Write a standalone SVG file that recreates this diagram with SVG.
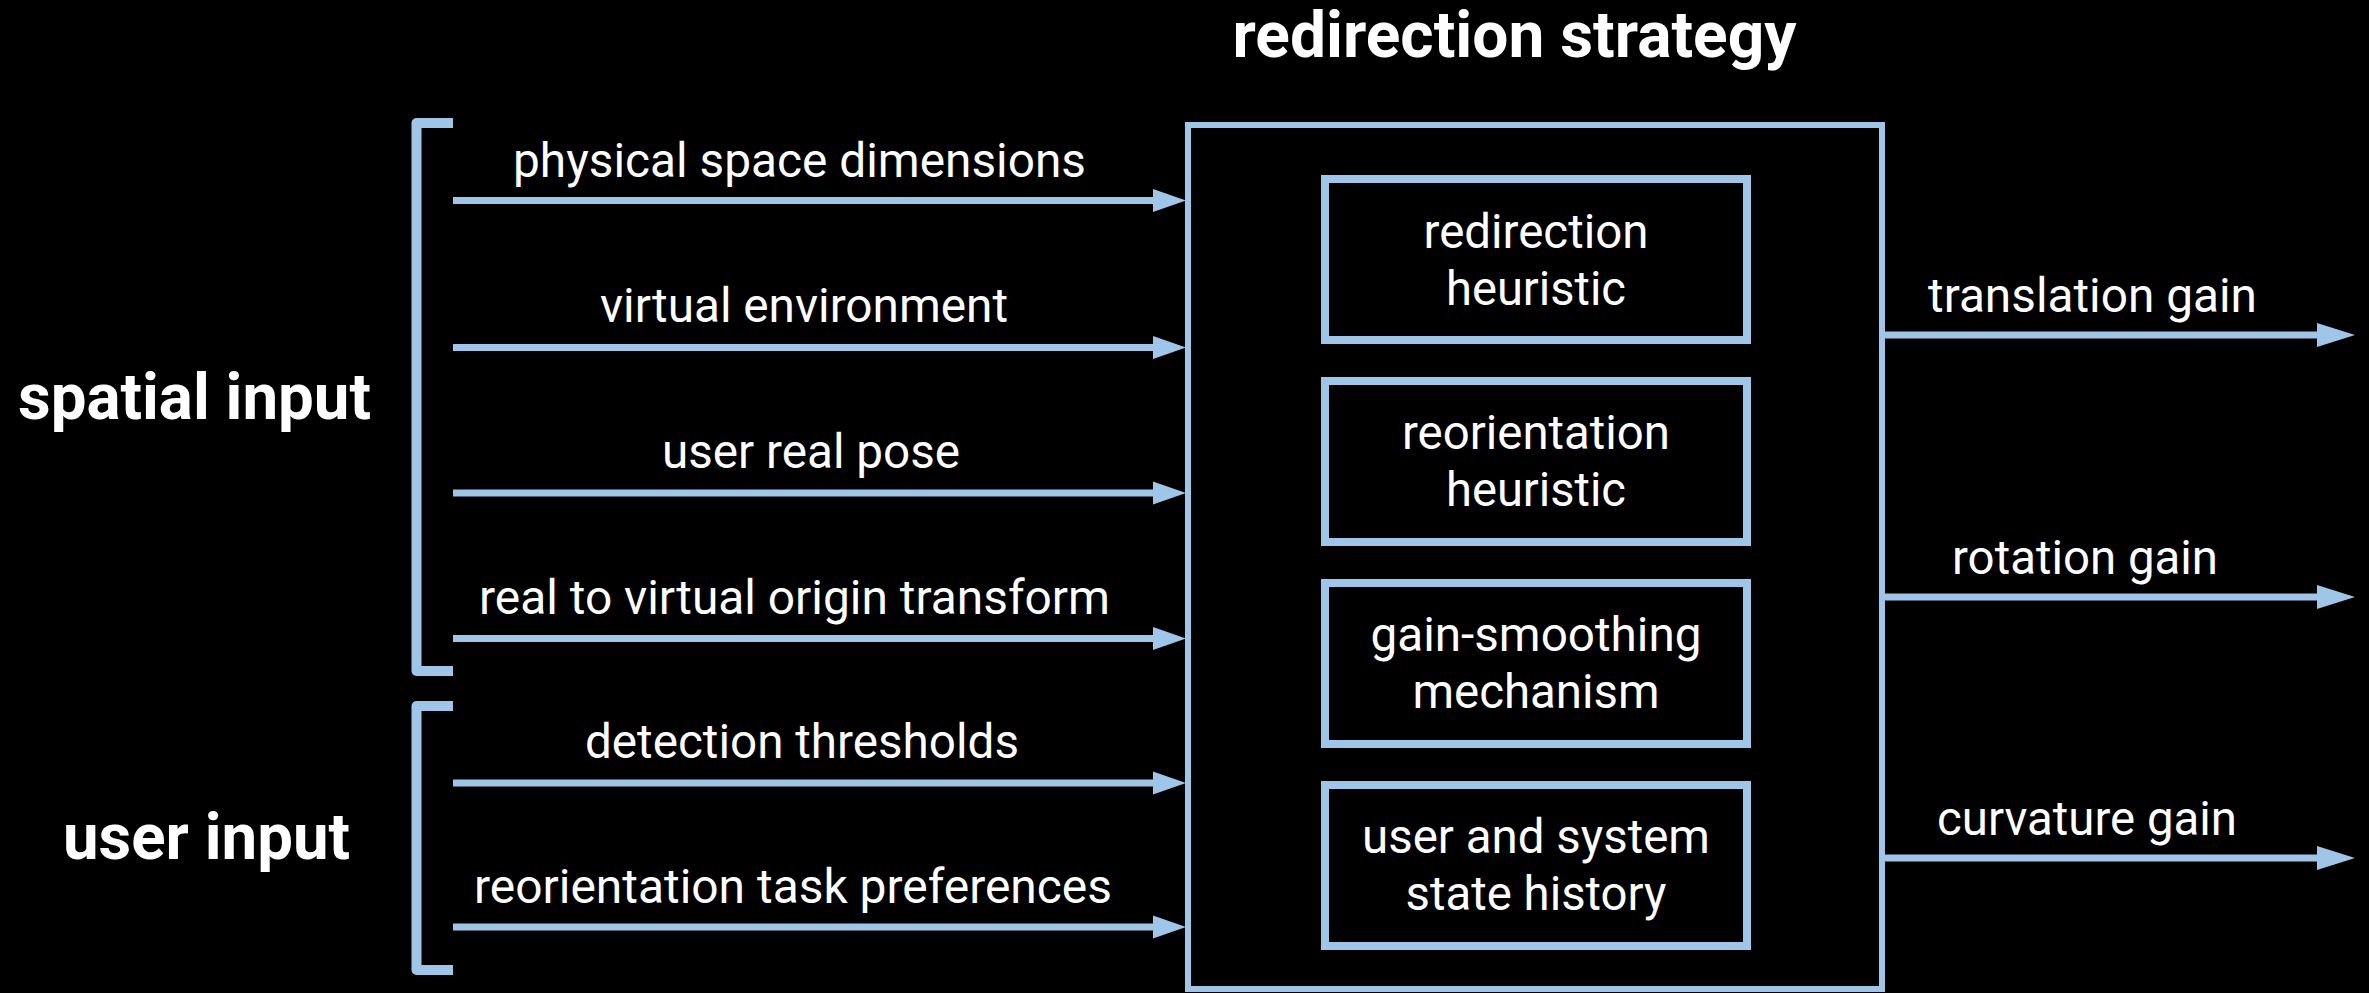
<svg xmlns="http://www.w3.org/2000/svg" width="2369" height="993" viewBox="0 0 2369 993">
  <style>
    .bg { fill: #000000; }
    .ln { stroke: #9fc5e8; stroke-width: 7; fill: none; }
    .brk { stroke: #9fc5e8; stroke-width: 10; fill: none; stroke-linejoin: round; }
    .box { stroke: #9fc5e8; stroke-width: 6; fill: #000000; }
    .inner { stroke: #9fc5e8; stroke-width: 8; fill: #000000; }
    .t { font-family: Roboto, "Liberation Sans", sans-serif; font-size: 48px; fill: #ffffff; }
    .b { font-family: Roboto, "Liberation Sans", sans-serif; font-size: 64px; font-weight: bold; fill: #ffffff; }
    .c { text-anchor: middle; }
  </style>
  <defs>
    <marker id="ahIn" markerUnits="userSpaceOnUse" viewBox="0 0 33 24" markerWidth="33" markerHeight="24" refX="1" refY="12" orient="auto">
      <path d="M0,0.5 L33,12 L0,23.5 z" fill="#9fc5e8"/>
    </marker>
    <marker id="ahOut" markerUnits="userSpaceOnUse" viewBox="0 0 38 24" markerWidth="38" markerHeight="24" refX="1" refY="12" orient="auto">
      <path d="M0,0 L38,12 L0,24 z" fill="#9fc5e8"/>
    </marker>
  </defs>
  <rect class="bg" x="0" y="0" width="2369" height="993"/>

  <text class="b c" x="1514.5" y="57" textLength="564" lengthAdjust="spacingAndGlyphs">redirection strategy</text>

  <g id="spatial-input">
    <path class="brk" d="M453,123 H416.5 V671 H453"/>
    <text class="b" x="18" y="419" textLength="353" lengthAdjust="spacingAndGlyphs">spatial input</text>
  </g>
  <g id="user-input">
    <path class="brk" d="M453,706 H416.5 V970 H453"/>
    <text class="b" x="63" y="859" textLength="287" lengthAdjust="spacingAndGlyphs">user input</text>
  </g>

  <g id="redirection-strategy">
    <rect class="box" x="1188" y="125" width="694" height="864"/>
  </g>
  <g id="redirection-heuristic">
    <rect class="inner" x="1325" y="179" width="422" height="161"/>
    <text class="t c" x="1536" y="248" textLength="225" lengthAdjust="spacingAndGlyphs">redirection</text>
    <text class="t c" x="1536" y="305" textLength="180" lengthAdjust="spacingAndGlyphs">heuristic</text>
  </g>
  <g id="reorientation-heuristic">
    <rect class="inner" x="1325" y="381" width="422" height="161"/>
    <text class="t c" x="1536" y="449" textLength="268" lengthAdjust="spacingAndGlyphs">reorientation</text>
    <text class="t c" x="1536" y="506" textLength="180" lengthAdjust="spacingAndGlyphs">heuristic</text>
  </g>
  <g id="gain-smoothing">
    <rect class="inner" x="1325" y="583" width="422" height="161"/>
    <text class="t c" x="1536" y="651" textLength="331" lengthAdjust="spacingAndGlyphs">gain-smoothing</text>
    <text class="t c" x="1536" y="708" textLength="247" lengthAdjust="spacingAndGlyphs">mechanism</text>
  </g>
  <g id="state-history">
    <rect class="inner" x="1325" y="785" width="422" height="161"/>
    <text class="t c" x="1536" y="853" textLength="348" lengthAdjust="spacingAndGlyphs">user and system</text>
    <text class="t c" x="1536" y="910" textLength="261" lengthAdjust="spacingAndGlyphs">state history</text>
  </g>

  <g id="connectors">
    <line class="ln" x1="453" y1="200.5" x2="1154" y2="200.5" marker-end="url(#ahIn)"/>
    <line class="ln" x1="453" y1="347.5" x2="1154" y2="347.5" marker-end="url(#ahIn)"/>
    <line class="ln" x1="453" y1="493" x2="1154" y2="493" marker-end="url(#ahIn)"/>
    <line class="ln" x1="453" y1="638.5" x2="1154" y2="638.5" marker-end="url(#ahIn)"/>
    <line class="ln" x1="453" y1="783" x2="1154" y2="783" marker-end="url(#ahIn)"/>
    <line class="ln" x1="453" y1="927" x2="1154" y2="927" marker-end="url(#ahIn)"/>
    <line class="ln" x1="1885" y1="335" x2="2318" y2="335" marker-end="url(#ahOut)"/>
    <line class="ln" x1="1885" y1="597" x2="2318" y2="597" marker-end="url(#ahOut)"/>
    <line class="ln" x1="1885" y1="858" x2="2318" y2="858" marker-end="url(#ahOut)"/>
    <text class="t" x="513" y="177" textLength="573" lengthAdjust="spacingAndGlyphs">physical space dimensions</text>
    <text class="t" x="600" y="322" textLength="408" lengthAdjust="spacingAndGlyphs">virtual environment</text>
    <text class="t" x="662" y="468" textLength="298" lengthAdjust="spacingAndGlyphs">user real pose</text>
    <text class="t" x="479" y="614" textLength="631" lengthAdjust="spacingAndGlyphs">real to virtual origin transform</text>
    <text class="t" x="585" y="758" textLength="434" lengthAdjust="spacingAndGlyphs">detection thresholds</text>
    <text class="t" x="474" y="903" textLength="638" lengthAdjust="spacingAndGlyphs">reorientation task preferences</text>
    <text class="t" x="1928" y="312" textLength="329" lengthAdjust="spacingAndGlyphs">translation gain</text>
    <text class="t" x="1952" y="574" textLength="266" lengthAdjust="spacingAndGlyphs">rotation gain</text>
    <text class="t" x="1937" y="835" textLength="300" lengthAdjust="spacingAndGlyphs">curvature gain</text>
  </g>
</svg>
